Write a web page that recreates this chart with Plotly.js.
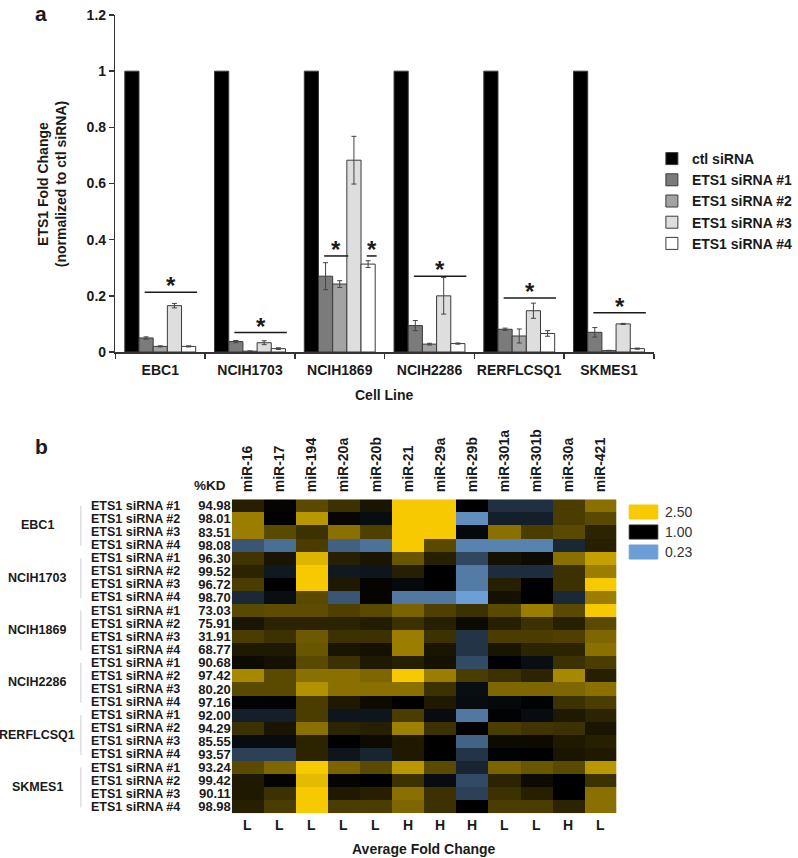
<!DOCTYPE html>
<html>
<head>
<meta charset="utf-8">
<script src="https://cdn.plot.ly/plotly-3.0.1.min.js"></script>
<style>html,body{margin:0;padding:0;background:#fff;}#chart{width:798px;height:858px;}</style>
</head>
<body>
<div id="chart"></div>
<script>
// ---------- Panel a data ----------
const cellLines = ['EBC1', 'NCIH1703', 'NCIH1869', 'NCIH2286', 'RERFLCSQ1', 'SKMES1'];
const seriesNames = ['ctl siRNA', 'ETS1 siRNA #1', 'ETS1 siRNA #2', 'ETS1 siRNA #3', 'ETS1 siRNA #4'];
const ctl  = [1, 1, 1, 1, 1, 1];
const ctlErr = [0, 0, 0, 0, 0, 0];
const si1  = [0.050, 0.037, 0.270, 0.094, 0.081, 0.070];
const si1Err = [0.004, 0.004, 0.048, 0.018, 0.004, 0.017];
const si2  = [0.020, 0.003, 0.242, 0.028, 0.057, 0.005];
const si2Err = [0.002, 0.001, 0.012, 0.003, 0.025, 0.001];
const si3  = [0.165, 0.033, 0.683, 0.200, 0.147, 0.100];
const si3Err = [0.008, 0.007, 0.085, 0.065, 0.027, 0.002];
const si4  = [0.020, 0.012, 0.313, 0.030, 0.066, 0.012];
const si4Err = [0.002, 0.003, 0.012, 0.002, 0.010, 0.002];
const yTicks = [0, 0.2, 0.4, 0.6, 0.8, 1, 1.2];

// significance brackets: cell line, first bar, last bar (series index), level
const sigCell  = ['EBC1', 'NCIH1703', 'NCIH1869', 'NCIH1869', 'NCIH2286', 'RERFLCSQ1', 'SKMES1'];
const sigFrom  = [1, 1, 1, 4, 1, 1, 1];
const sigTo    = [4, 4, 2, 4, 4, 4, 4];
const sigLevel = [0.213, 0.069, 0.342, 0.342, 0.270, 0.192, 0.140];

// ---------- Panel b data ----------
const mirs = ['miR-16', 'miR-17', 'miR-194', 'miR-20a', 'miR-20b', 'miR-21', 'miR-29a', 'miR-29b', 'miR-301a', 'miR-301b', 'miR-30a', 'miR-421'];
const avgFold = ['L', 'L', 'L', 'L', 'L', 'H', 'H', 'H', 'L', 'L', 'H', 'L'];
const siNames = ['ETS1 siRNA #1', 'ETS1 siRNA #2', 'ETS1 siRNA #3', 'ETS1 siRNA #4'];
const kdEBC1      = ['94.98', '98.01', '83.51', '98.08'];
const kdNCIH1703  = ['96.30', '99.52', '96.72', '98.70'];
const kdNCIH1869  = ['73.03', '75.91', '31.91', '68.77'];
const kdNCIH2286  = ['90.68', '97.42', '80.20', '97.16'];
const kdRERFLCSQ1 = ['92.00', '94.29', '85.55', '93.57'];
const kdSKMES1    = ['93.24', '99.42', '90.11', '98.98'];
// fold change per miRNA (columns follow mirs)
const fcEBC1 = [
  [1.15, 1.02, 1.40, 1.25, 1.10, 2.80, 2.80, 1.00, 0.64, 0.64, 1.32, 1.67],
  [1.78, 1.00, 1.99, 1.03, 0.89, 2.80, 2.80, 0.27, 0.75, 0.75, 1.32, 1.40],
  [1.78, 1.40, 1.25, 1.67, 1.34, 2.80, 2.80, 0.92, 1.67, 1.32, 1.40, 1.18],
  [0.45, 0.36, 1.32, 0.41, 0.35, 2.80, 1.40, 0.30, 0.30, 0.30, 0.70, 1.15]
];
const fcNCIH1703 = [
  [1.27, 1.10, 2.28, 1.15, 1.10, 1.48, 1.15, 0.52, 1.08, 1.05, 1.67, 2.08],
  [1.18, 0.80, 2.60, 0.80, 0.82, 1.15, 1.00, 0.32, 0.66, 0.66, 1.25, 1.78],
  [1.32, 1.00, 2.60, 1.12, 1.02, 0.92, 1.00, 0.32, 1.15, 1.00, 1.25, 2.50],
  [0.69, 0.88, 1.40, 0.45, 1.02, 0.33, 0.33, 0.23, 1.08, 1.00, 0.69, 1.78]
];
const fcNCIH1869 = [
  [1.40, 1.42, 1.42, 1.34, 1.40, 1.58, 1.34, 1.25, 1.40, 1.78, 1.40, 2.50],
  [1.10, 1.18, 1.18, 1.18, 1.14, 1.25, 1.15, 1.05, 1.15, 1.25, 1.15, 1.40],
  [1.32, 1.25, 1.50, 1.25, 1.25, 1.78, 1.25, 0.62, 1.32, 1.32, 1.34, 1.60],
  [1.12, 1.12, 1.48, 1.10, 1.08, 1.78, 1.10, 0.62, 1.10, 1.18, 1.18, 1.67]
];
const fcNCIH2286 = [
  [1.05, 1.08, 1.40, 1.25, 1.12, 1.15, 1.08, 0.50, 1.00, 0.88, 1.25, 1.32],
  [1.86, 1.40, 1.67, 1.67, 1.60, 2.50, 1.78, 1.32, 1.25, 1.18, 1.86, 1.15],
  [1.40, 1.40, 1.95, 1.67, 1.67, 1.67, 1.25, 0.88, 1.60, 1.60, 1.60, 1.67],
  [0.97, 0.98, 1.32, 1.12, 1.05, 1.00, 1.12, 0.90, 0.92, 0.98, 1.25, 1.32]
];
const fcRERFLCSQ1 = [
  [0.75, 0.75, 1.32, 0.82, 0.82, 1.32, 0.90, 0.33, 0.98, 0.90, 1.12, 1.18],
  [1.25, 1.10, 1.67, 1.18, 1.15, 1.80, 1.25, 1.00, 1.32, 1.27, 1.25, 1.10],
  [0.90, 0.90, 1.18, 1.00, 1.05, 1.12, 1.00, 0.40, 1.05, 1.05, 1.12, 1.15],
  [0.55, 0.55, 1.18, 0.82, 0.72, 1.12, 1.00, 0.62, 0.98, 1.00, 1.10, 1.12]
];
const fcSKMES1 = [
  [1.40, 1.60, 2.60, 1.58, 1.40, 1.99, 1.40, 0.72, 1.58, 1.48, 1.40, 1.99],
  [1.12, 1.02, 2.35, 1.02, 1.00, 1.25, 0.90, 0.50, 1.18, 1.05, 1.00, 1.25],
  [1.12, 1.25, 2.60, 1.12, 1.15, 1.67, 1.25, 0.55, 1.25, 1.15, 1.00, 1.67],
  [1.15, 1.32, 2.60, 1.32, 1.32, 1.60, 1.25, 1.00, 1.32, 1.32, 1.18, 1.67]
];
const legendValues = [2.50, 1.00, 0.23];

// ---------- helpers ----------
const W = 798, H = 858;
const px = v => v / W;
const py = v => 1 - v / H;
const FONT = 'Liberation Sans, Arial, Helvetica, sans-serif';
const TXT = '#1a1a1a';
const bold = (size) => ({family: FONT, size: size, color: TXT, weight: 'bold'});

const YELLOW = '#f6c900', BLUE = '#6b9fd6', BLACK = '#000000';

// ---------- Panel a traces ----------
const vals = [ctl, si1, si2, si3, si4];
const errs = [ctlErr, si1Err, si2Err, si3Err, si4Err];
const fills = ['#000000', '#7b7b7b', '#a3a3a3', '#dedede', '#ffffff'];
const traces = [];
vals.forEach((v, k) => {
  traces.push({
    type: 'bar', name: seriesNames[k], x: cellLines, y: v,
    xaxis: 'x', yaxis: 'y',
    marker: {color: fills[k], line: {color: '#3a3a3a', width: 1}},
    error_y: {type: 'data', array: errs[k], visible: k > 0, color: '#444', thickness: 1, width: 2.5},
    legendgroup: 'g' + k,
    hoverinfo: 'skip'
  });
});

// ---------- Panel b heatmap ----------
const groups = [
  {name: 'EBC1', kd: kdEBC1, fc: fcEBC1},
  {name: 'NCIH1703', kd: kdNCIH1703, fc: fcNCIH1703},
  {name: 'NCIH1869', kd: kdNCIH1869, fc: fcNCIH1869},
  {name: 'NCIH2286', kd: kdNCIH2286, fc: fcNCIH2286},
  {name: 'RERFLCSQ1', kd: kdRERFLCSQ1, fc: fcRERFLCSQ1},
  {name: 'SKMES1', kd: kdSKMES1, fc: fcSKMES1}
];
const zRows = [], kdAll = [];
groups.forEach(g => { g.fc.forEach(r => zRows.push(r.map(v => Math.log(v)))); g.kd.forEach(k => kdAll.push(k)); });
const nRows = zRows.length;
const rowIdx = zRows.map((_, i) => i);
const colIdx = mirs.map((_, i) => i);
const zmin = Math.log(legendValues[2]), zmax = Math.log(legendValues[0]);
const mid = (0 - zmin) / (zmax - zmin);
traces.push({
  type: 'heatmap', x: colIdx, y: rowIdx, z: zRows,
  xaxis: 'x2', yaxis: 'y2',
  zmin: zmin, zmax: zmax, zsmooth: false,
  colorscale: [[0, BLUE], [mid, BLACK], [1, YELLOW]],
  showscale: false, hoverinfo: 'skip', showlegend: false
});

// ---------- annotations & shapes ----------
const ann = [], shapes = [];
const A = (o) => Object.assign({xref: 'paper', yref: 'paper', showarrow: false, xanchor: 'center', yanchor: 'middle'}, o);
ann.push(A({text: 'a', x: px(42), y: py(0), yanchor: 'top', font: bold(21)}));
ann.push(A({text: 'b', x: px(42), y: py(446), font: bold(21)}));
ann.push(A({text: 'ETS1 Fold Change<br>(normalized to ctl siRNA)', x: px(53), y: py(184), textangle: -90, font: bold(14)}));
ann.push(A({text: 'Cell Line', x: px(390), y: py(395), font: bold(14)}));

// significance
const bargap = 0.21, bw = (1 - bargap) / seriesNames.length;
sigCell.forEach((c, i) => {
  const ci = cellLines.indexOf(c);
  const left = ci - (1 - bargap) / 2 + sigFrom[i] * bw + 0.4 * bw;
  const right = ci - (1 - bargap) / 2 + (sigTo[i] + 1) * bw + 0.1 * bw;
  shapes.push({type: 'line', xref: 'x', yref: 'y', x0: left, x1: right, y0: sigLevel[i], y1: sigLevel[i],
    line: {color: '#1a1a1a', width: 1.5}});
  ann.push(A({text: '*', x: (left + right) / 2, y: sigLevel[i], xref: 'x', yref: 'y', yanchor: 'bottom',
    yshift: -9, font: bold(24)}));
});

// heatmap row labels
groups.forEach((g, gi) => {
  siNames.forEach((s, k) => {
    ann.push(A({text: s, x: px(90), xanchor: 'left', y: gi * 4 + k, yref: 'y2', font: bold(12.5)}));
  });
  ann.push(A({text: g.name, x: px(38), y: gi * 4 + 1.5, yref: 'y2', font: bold(12.5)}));
  shapes.push({type: 'line', xref: 'paper', yref: 'y2', x0: px(82), x1: px(82), y0: gi * 4 - 0.0, y1: gi * 4 + 3.05,
    line: {color: '#cfcfcf', width: 1}});
});
ann.push(A({text: '%KD', x: px(231), xanchor: 'right', y: py(485), font: bold(13.5)}));
avgFold.forEach((t, i) => {
  ann.push(A({text: t, x: i, y: py(825), xref: 'x2', font: bold(14)}));
});
ann.push(A({text: 'Average Fold Change', x: px(430), y: py(849), font: bold(14)}));

// discrete legend for heatmap
const swCols = [YELLOW, BLACK, BLUE];
const swTop = [505, 525, 545];
legendValues.forEach((v, i) => {
  shapes.push({type: 'rect', xref: 'paper', yref: 'paper', x0: px(638), x1: px(667), y0: py(swTop[i]), y1: py(swTop[i] + 14),
    fillcolor: swCols[i], line: {color: i === 1 ? '#222' : swCols[i], width: 1}});
  ann.push(A({text: v.toFixed(2), x: px(672), xanchor: 'left', y: py(swTop[i] + 7),
    font: {family: FONT, size: 14, color: '#333', weight: 'normal'}}));
});

const layout = {
  width: W, height: H,
  margin: {l: 0, r: 0, t: 0, b: 0},
  paper_bgcolor: '#fff', plot_bgcolor: '#fff',
  font: {family: FONT, size: 14, color: TXT, weight: 'bold'},
  barmode: 'group', bargap: bargap, bargroupgap: 0,
  showlegend: true,
  legend: {x: px(661), y: py(143), xanchor: 'left', yanchor: 'top', font: bold(14), bgcolor: 'rgba(0,0,0,0)',
    tracegroupgap: 4, traceorder: 'normal'},
  xaxis: {domain: [px(117), px(663)], anchor: 'y', type: 'category', showline: true, linecolor: '#333', linewidth: 1.5,
    ticks: 'outside', tickson: 'boundaries', ticklen: 5, tickcolor: '#333', tickwidth: 1.5, tickangle: 0,
    ticklabelstandoff: 5, tickfont: bold(14), showgrid: false, zeroline: false, fixedrange: true},
  yaxis: {domain: [py(352), py(15)], anchor: 'x', range: [0, 1.2], tickmode: 'array', tickvals: yTicks,
    ticktext: yTicks.map(String), showline: true, linecolor: '#333', linewidth: 1.5, ticks: 'outside', ticklen: 5,
    tickcolor: '#333', tickwidth: 1.5, tickfont: bold(14), showgrid: false, zeroline: false},
  xaxis2: {domain: [px(235), px(625)], anchor: 'y2', side: 'top', range: [-0.5, mirs.length - 0.5],
    tickmode: 'array', tickvals: colIdx, ticktext: mirs, tickangle: -90, ticks: '', showline: false,
    showgrid: false, zeroline: false, tickfont: bold(14), ticklabelstandoff: 6},
  yaxis2: {domain: [py(813.3), py(499.3)], anchor: 'x2', range: [nRows - 0.5, -0.5],
    tickmode: 'array', tickvals: rowIdx, ticktext: kdAll, ticks: '', showline: false, showgrid: false,
    zeroline: false, tickfont: bold(13)},
  annotations: ann,
  shapes: shapes
};

Plotly.newPlot('chart', traces, layout, {displayModeBar: false, staticPlot: true});
</script>
</body>
</html>
